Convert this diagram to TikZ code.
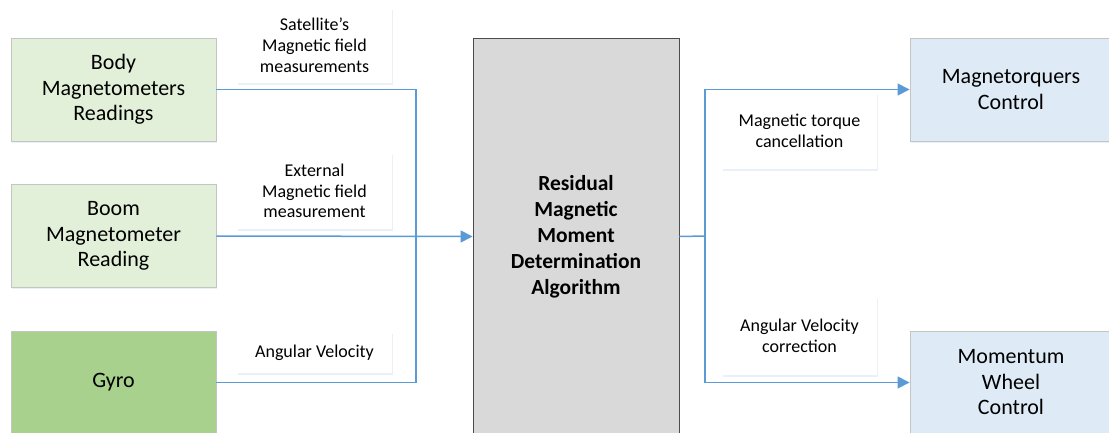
\documentclass[tikz,border=0pt]{standalone}
\usepackage{fontspec}
\setmainfont{Carlito}
\usetikzlibrary{arrows.meta,shadows}
\definecolor{lgreen}{HTML}{E2F0D9}
\definecolor{dgreen}{HTML}{A9D18E}
\definecolor{lgray}{HTML}{D9D9D9}
\definecolor{lblue}{HTML}{DEEBF7}
\definecolor{conncol}{HTML}{5B9BD5}
\definecolor{shadowcol}{HTML}{D5E2F2}
\definecolor{boxborder}{HTML}{C4C4C4}
\tikzset{
  blockbox/.style={rectangle, draw=boxborder, line width=0.9pt, minimum width=205pt, minimum height=103pt,
    align=center, inner sep=0pt, font=\fontsize{22}{25.5}\selectfont,
    drop shadow={shadow xshift=0.8pt, shadow yshift=-1.8pt, fill=shadowcol, opacity=0.5}},
  labelbox/.style={rectangle, fill=white, minimum width=155pt, align=center, inner sep=0pt,
    font=\fontsize{18}{20.8}\selectfont,
    drop shadow={shadow xshift=0.8pt, shadow yshift=-1.8pt, fill=shadowcol, opacity=0.5}},
  conn/.style={draw=conncol, line width=1.5pt},
  connarrow/.style={conn, -{Triangle[length=12pt,width=12pt]}},
}
\begin{document}
\begin{tikzpicture}[x=1pt,y=-1pt]
\useasboundingbox (0,0) rectangle (1109,432);
% left input boxes
\node[blockbox, fill=lgreen] (body) at (113.5,89.5) {Body\\Magnetometers\\Readings};
\node[blockbox, fill=lgreen] (boom) at (113.5,236) {Boom\\Magnetometer\\Reading};
\node[blockbox, fill=dgreen] (gyro) at (113.5,382.5) {Gyro};
% labels
\node[labelbox, minimum height=75pt] (lsat) at (314.5,45.5) {Satellite’s\\Magnetic field\\measurements};
\node[labelbox, minimum height=76pt] (lext) at (314.5,191) {External\\Magnetic field\\measurement};
\node[labelbox, minimum height=41pt] (lang) at (314.5,352.5) {Angular Velocity};
% center box
\node[rectangle, draw=black!70, line width=0.9pt, fill=lgray, minimum width=206pt, minimum height=397pt,
  align=center, inner sep=0pt, font=\bfseries\fontsize{21.5}{26}\selectfont] (alg) at (576,236.5)
  {Residual\\Magnetic\\Moment\\Determination\\Algorithm};
% right boxes
\node[blockbox, fill=lblue, minimum width=202pt] (mtq) at (1011,89.5) {Magnetorquers\\Control};
\node[blockbox, fill=lblue, minimum width=202pt] (mw) at (1011,382.5) {Momentum\\Wheel\\Control};
% right labels
\node[labelbox, minimum height=76pt] (ltorque) at (799.5,131) {Magnetic torque\\cancellation};
\node[labelbox, minimum height=78pt] (lcorr) at (799.5,336) {Angular Velocity\\correction};
% connectors
\coordinate (jin) at (416,236);
\coordinate (jout) at (705,236);
\draw[conn] (body.east) -| (jin);
\draw[conn] (gyro.east) -| (jin);
\draw[connarrow] (boom.east) -- (alg.west);
\draw[conn] (alg.east) -- (jout);
\draw[connarrow] (jout) |- (mtq.west);
\draw[connarrow] (jout) |- (mw.west);
\end{tikzpicture}
\end{document}
